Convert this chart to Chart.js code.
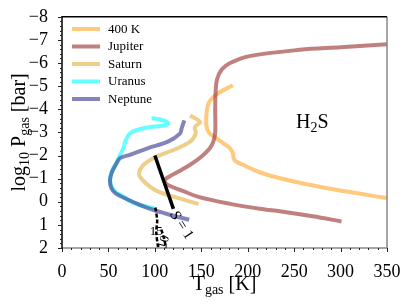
<!DOCTYPE html>
<html><head><meta charset="utf-8">
<script src="https://cdn.jsdelivr.net/npm/chart.js@4"></script>
<style>html,body{margin:0;padding:0;background:#fff}#c{display:block}</style>
</head><body>
<canvas id="c" width="407" height="304"></canvas>
<script>
// ---- data (T in K, log10 P in bar) ----
const seriesNames = ['400 K', 'Jupiter', 'Saturn', 'Uranus', 'Neptune'];
const hot400K = [[184,-5.03],[175,-4.85],[166.6,-4.65],[160,-4.4],[157,-4.17],[155.5,-3.74],[155.5,-3.3],[158,-3.0],[165,-2.78],[173,-2.55],[181,-2.31],[184,-2.1],[185,-1.85],[189,-1.7],[195,-1.6],[202,-1.46],[220,-1.18],[256,-0.82],[292,-0.54],[350,-0.16]];
const jupiter = [[350,-6.81],[300,-6.68],[256,-6.57],[202,-6.30],[181,-6.0],[172,-5.72],[167,-5.3],[165.5,-4.8],[165,-4.0],[165,-3.0],[163,-2.6],[159,-2.3],[150,-1.95],[138,-1.6],[125,-1.3],[116,-1.1],[111,-0.95],[113,-0.75],[130,-0.47],[148,-0.2],[180,0.08],[213,0.3],[238,0.43],[270,0.63],[301,0.85]];
const saturn = [[138,-3.73],[148.6,-3.45],[143,-3.23],[144,-2.95],[138,-2.6],[120,-2.24],[102,-1.96],[88,-1.6],[83,-1.2],[88,-0.89],[102,-0.47],[123.5,-0.18],[147,0.1]];
const uranus = [[96.6,-3.62],[105,-3.56],[112,-3.48],[114.5,-3.39],[111,-3.31],[103,-3.27],[94.8,-3.23],[80,-3.1],[73,-2.95],[68,-2.6],[66.5,-2.35],[63.5,-2.1],[59,-1.74],[54,-1.35],[51.7,-1.0],[53,-0.7],[57,-0.45],[65,-0.25],[77,0.05],[88,0.18],[99,0.27]];
const neptune = [[131.7,-3.52],[129,-3.2],[127,-2.95],[114,-2.6],[92,-2.31],[73,-2.03],[62.5,-1.89],[58.9,-1.67],[53.5,-1.25],[51.7,-0.9],[53,-0.6],[58,-0.35],[70,-0.11],[82,0.1],[95,0.31],[115,0.55],[137,0.78]];
const saturationLine = [[100,-2.0],[120,0.31]];
const dashedA = [[100.5,0.25],[102.5,0.8],[101.5,1.3],[103.5,2.0]];
const dashedB = [[107,1.2],[110,1.6],[112,2.0]];
const xTickValues = [0,50,100,150,200,250,300,350];
const yTickValues = [-8,-7,-6,-5,-4,-3,-2,-1,0,1,2];
const speciesLabel = 'H2S';
const satLabel = 'S = 1';
const contourLabels = ['15','10'];

const colors = ['rgba(255,165,40,0.6)','rgba(160,60,60,0.65)','rgba(225,175,60,0.6)','rgba(0,255,255,0.6)','rgba(50,50,140,0.6)'];
const tensions = [0.35, 0.35, 0.35, 0.3, 0.35];
const SERIF = '"Liberation Serif","DejaVu Serif",serif';
const toPts = a => a.map(p => ({x:p[0], y:p[1]}));
const curves = [hot400K, jupiter, saturn, uranus, neptune];

const datasets = curves.map((c,i) => ({
  label: seriesNames[i], data: toPts(c), showLine: true, borderColor: colors[i],
  borderWidth: 4, pointRadius: 0, tension: tensions[i], fill: false, order: 20 - i
}));
datasets.push({label:'S=1', data: toPts(saturationLine), showLine:true, borderColor:'#000', borderWidth:3.5, pointRadius:0, order:2});
datasets.push({label:'dA', data: toPts(dashedA), showLine:true, borderColor:'#000', borderWidth:2.5, borderDash:[4,2], pointRadius:0, tension:0.3, order:1});
datasets.push({label:'dB', data: toPts(dashedB), showLine:true, borderColor:'#000', borderWidth:2.5, borderDash:[4,2], pointRadius:0, tension:0.3, order:1});

function drawSub(ctx, parts, x, y, align) {
  let w = 0;
  parts.forEach(p => { ctx.font = (p[3]||'') + p[1] + 'px ' + SERIF; w += ctx.measureText(p[0]).width; });
  let cx = align === 'center' ? x - w/2 : x;
  ctx.textAlign = 'left'; ctx.textBaseline = 'alphabetic';
  parts.forEach(p => { ctx.font = (p[3]||'') + p[1] + 'px ' + SERIF; ctx.fillText(p[0], cx, y + p[2]); cx += ctx.measureText(p[0]).width; });
}

const decor = {
  id: 'decor',
  afterDraw(chart) {
    const ctx = chart.ctx, a = chart.chartArea, xs = chart.scales.x, ys = chart.scales.y;
    ctx.save();
    ctx.lineWidth = 1.5;
    ctx.strokeStyle = '#888';
    ctx.beginPath(); ctx.moveTo(a.right, a.top); ctx.lineTo(a.right, a.bottom); ctx.lineTo(a.left, a.bottom); ctx.stroke();
    ctx.strokeStyle = '#000';
    ctx.beginPath(); ctx.moveTo(a.left, a.bottom); ctx.lineTo(a.left, a.top); ctx.lineTo(a.right, a.top); ctx.stroke();
    ctx.lineWidth = 1; ctx.strokeStyle = '#222';
    for (let v = 0; v <= 350; v += 10) {
      const px = Math.round(xs.getPixelForValue(v)) + 0.5;
      const L = v % 50 === 0 ? 4 : 2;
      ctx.beginPath(); ctx.moveTo(px, a.bottom); ctx.lineTo(px, a.bottom + L); ctx.stroke();
    }
    for (let i = 0; i <= 50; i++) {
      const v = -8 + i * 0.2;
      const py = Math.round(ys.getPixelForValue(v)) + 0.5;
      const L = i % 5 === 0 ? 4 : 2;
      ctx.beginPath(); ctx.moveTo(a.left, py); ctx.lineTo(a.left - L, py); ctx.stroke();
    }
    ctx.fillStyle = '#000';
    drawSub(ctx, [['T',20,0],['gas',14,4],[' [K]',20,0]], (a.left + a.right)/2, 290, 'center');
    ctx.save();
    ctx.translate(25, (a.top + a.bottom)/2);
    ctx.rotate(-Math.PI/2);
    drawSub(ctx, [['log',20,0],['10',14,4],[' P',20,0],['gas',14,4],[' [bar]',20,0]], 0, 0, 'center');
    ctx.restore();
    ctx.lineWidth = 4;
    seriesNames.forEach((n, i) => {
      const ly = [29, 46.5, 64, 81.5, 99][i];
      ctx.strokeStyle = colors[i];
      ctx.beginPath(); ctx.moveTo(72, ly); ctx.lineTo(100, ly); ctx.stroke();
      ctx.font = '13px ' + SERIF; ctx.textAlign = 'left'; ctx.textBaseline = 'middle';
      ctx.fillStyle = '#000';
      ctx.fillText(n, 108, ly + 0.5);
    });
    drawSub(ctx, [[speciesLabel[0],20,0],[speciesLabel[1],14,4],[speciesLabel.slice(2),20,0]], xs.getPixelForValue(252), ys.getPixelForValue(-3.19), 'left');
    ctx.save();
    ctx.translate(xs.getPixelForValue(120.6), ys.getPixelForValue(0.43));
    ctx.rotate(57 * Math.PI/180);
    drawSub(ctx, [[satLabel[0],15,0,'italic '],[satLabel.slice(1),15,0]], 0, 5, 'left');
    ctx.restore();
    ctx.font = '13px ' + SERIF; ctx.textAlign = 'center'; ctx.textBaseline = 'middle';
    ctx.fillText(contourLabels[0], xs.getPixelForValue(101.5), ys.getPixelForValue(1.3));
    ctx.save();
    ctx.translate(xs.getPixelForValue(110), ys.getPixelForValue(1.75));
    ctx.rotate(-75 * Math.PI/180);
    ctx.fillText(contourLabels[1], 0, 0);
    ctx.restore();
    ctx.restore();
  }
};

new Chart(document.getElementById('c'), {
  type: 'scatter',
  data: { datasets },
  options: {
    responsive: false, animation: false,
    layout: { padding: { left: 0, right: 20, top: 13, bottom: 0 } },
    plugins: { legend: { display: false }, tooltip: { enabled: false } },
    scales: {
      x: {
        type: 'linear', min: 0, max: 350,
        afterBuildTicks: s => { s.ticks = xTickValues.map(v => ({value: v})); },
        ticks: { font: { family: SERIF, size: 18 }, color: '#000', padding: 5, maxRotation: 0, autoSkip: false },
        grid: { display: false }, border: { display: false },
        afterFit: s => { s.height = 56; }
      },
      y: {
        type: 'linear', min: -8, max: 2, reverse: true,
        afterBuildTicks: s => { s.ticks = yTickValues.map(v => ({value: v})); },
        ticks: { font: { family: SERIF, size: 18 }, color: '#000', padding: 6, autoSkip: false,
          callback: v => v < 0 ? '\u2212' + Math.abs(v) : String(v) },
        grid: { display: false }, border: { display: false },
        afterFit: s => { s.width = 62; }
      }
    }
  },
  plugins: [decor]
});
</script>
</body></html>
